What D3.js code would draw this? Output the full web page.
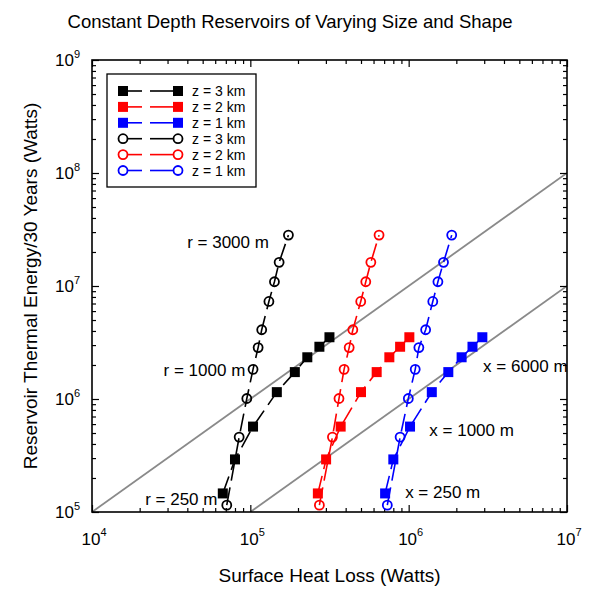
<!DOCTYPE html>
<html>
<head>
<meta charset="utf-8">
<script src="https://cdn.jsdelivr.net/npm/d3@7"></script>
<style>
  body { margin: 0; background: #fff; }
  #chart { width: 593px; height: 591px; }
  text { font-family: "Liberation Sans", Arial, sans-serif; fill: #000; }
</style>
</head>
<body>
<div id="chart"></div>
<script>
// energy stored per reservoir (y values)
const energySphere = [1.15e5, 4.6e5, 1.01e6, 1.83e6, 2.85e6, 4.1e6, 7.3e6, 1.09e7, 1.62e7, 2.82e7];
const energyBox = [1.46e5, 2.92e5, 5.7e5, 1.15e6, 1.73e6, 2.34e6, 2.9e6, 3.52e6];

// surface heat loss (x values), per depth
const lossBox3 = [6.7e4, 8.0e4, 1.04e5, 1.47e5, 1.91e5, 2.29e5, 2.73e5, 3.16e5];
const lossBox2 = [2.67e5, 3.01e5, 3.72e5, 5.0e5, 6.28e5, 7.55e5, 8.83e5, 1.01e6];
const lossBox1 = [7.1e5, 8.0e5, 1.02e6, 1.40e6, 1.78e6, 2.16e6, 2.53e6, 2.92e6];
const lossSphere3 = [7.1e4, 8.5e4, 9.5e4, 1.04e5, 1.12e5, 1.18e5, 1.31e5, 1.42e5, 1.52e5, 1.74e5];
const lossSphere2 = [2.73e5, 3.30e5, 3.63e5, 3.91e5, 4.21e5, 4.44e5, 4.98e5, 5.36e5, 5.77e5, 6.50e5];
const lossSphere1 = [7.33e5, 8.83e5, 9.95e5, 1.10e6, 1.16e6, 1.28e6, 1.42e6, 1.53e6, 1.66e6, 1.87e6];

const seriesNames = ["z = 3 km", "z = 2 km", "z = 1 km", "z = 3 km", "z = 2 km", "z = 1 km"];
const seriesColors = ["#000000", "#ff0000", "#0000ff", "#000000", "#ff0000", "#0000ff"];
const seriesShapes = ["square", "square", "square", "circle", "circle", "circle"];

// ratio energy/heat loss for the gray guide lines
const guideRatios = [10, 1];

// annotations, anchored in data space
const noteText = ["r = 3000 m", "r = 1000 m", "r = 250 m", "x = 6000 m", "x = 1000 m", "x = 250 m"];
const noteLoss = [1.31e5, 9.3e4, 6.2e4, 2.95e6, 1.35e6, 9.5e5];
const noteEnergy = [2.17e7, 1.6e6, 1.15e5, 1.73e6, 4.7e5, 1.33e5];
const noteAnchor = ["end", "end", "end", "start", "start", "start"];

const xTickExp = [4, 5, 6, 7];
const yTickExp = [5, 6, 7, 8, 9];

function render() {
  const container = d3.select("#chart");
  const width = 593, height = 591;
  const margin = { top: 60, right: 26, bottom: 79, left: 92 };
  const innerW = width - margin.left - margin.right;
  const innerH = height - margin.top - margin.bottom;

  const svg = container.append("svg").attr("width", width).attr("height", height);
  const g = svg.append("g").attr("transform", `translate(${margin.left},${margin.top})`);

  const x = d3.scaleLog().domain([1e4, 1e7]).range([0, innerW]);
  const y = d3.scaleLog().domain([1e5, 1e9]).range([innerH, 0]);

  svg.append("defs").append("clipPath").attr("id", "plotclip")
    .append("rect").attr("width", innerW).attr("height", innerH);

  // guide lines E = ratio * Q
  g.append("g").attr("clip-path", "url(#plotclip)")
    .selectAll("line").data(guideRatios).enter().append("line")
    .attr("x1", d => x(Math.max(1e4, 1e5 / d))).attr("y1", y(1e5))
    .attr("x2", x(1e7)).attr("y2", d => y(d * 1e7))
    .attr("stroke", "#8a8a8a").attr("stroke-width", 1.8);

  // ticks (inward, all four sides)
  const minor = x.ticks().filter(v => Math.abs(Math.log10(v) % 1) > 1e-6);
  const major = xTickExp.map(e => Math.pow(10, e));
  const yMinor = y.ticks().filter(v => Math.abs(Math.log10(v) % 1) > 1e-6);
  const yMajor = yTickExp.map(e => Math.pow(10, e));

  const tickSets = [
    [d3.axisBottom(x), minor, 4, `translate(0,${innerH})`],
    [d3.axisBottom(x), major, 7, `translate(0,${innerH})`],
    [d3.axisTop(x), minor, 4, null],
    [d3.axisTop(x), major, 7, null],
    [d3.axisLeft(y), yMinor, 4, null],
    [d3.axisLeft(y), yMajor, 7, null],
    [d3.axisRight(y), yMinor, 4, `translate(${innerW},0)`],
    [d3.axisRight(y), yMajor, 7, `translate(${innerW},0)`]
  ];
  tickSets.forEach(([axis, vals, len, tr]) => {
    const a = g.append("g").call(axis.tickValues(vals).tickSize(-len).tickSizeOuter(0).tickFormat(""));
    if (tr) a.attr("transform", tr);
    a.select(".domain").remove();
    a.selectAll("line").attr("stroke", "#000").attr("stroke-width", 1.2);
  });

  g.append("rect").attr("width", innerW).attr("height", innerH)
    .attr("fill", "none").attr("stroke", "#000").attr("stroke-width", 1.6);

  // tick labels with superscripts
  const xl = g.selectAll(".xlab").data(xTickExp).enter().append("text")
    .attr("class", "xlab")
    .attr("x", d => x(Math.pow(10, d)) + 2).attr("y", innerH + 33)
    .attr("text-anchor", "middle").attr("font-size", 17);
  xl.append("tspan").text("10");
  xl.append("tspan").attr("dy", -9).attr("font-size", 11).text(d => d);

  const yl = g.selectAll(".ylab").data(yTickExp).enter().append("text")
    .attr("class", "ylab")
    .attr("x", -12).attr("y", d => y(Math.pow(10, d)) + 6)
    .attr("text-anchor", "end").attr("font-size", 17);
  yl.append("tspan").text("10");
  yl.append("tspan").attr("dy", -8).attr("font-size", 11).text(d => d);

  // series
  const series = [lossBox3, lossBox2, lossBox1, lossSphere3, lossSphere2, lossSphere1].map((loss, i) => ({
    name: seriesNames[i],
    color: seriesColors[i],
    shape: seriesShapes[i],
    points: loss.map((q, j) => ({ q, e: (seriesShapes[i] === "square" ? energyBox : energySphere)[j] }))
  }));

  const line = d3.line().x(d => x(d.q)).y(d => y(d.e));
  const sq = 10, rc = 4.5;

  series.forEach(s => {
    const sg = g.append("g");
    sg.append("path").datum(s.points).attr("d", line)
      .attr("fill", "none").attr("stroke", s.color).attr("stroke-width", 1.6)
      .attr("stroke-dasharray", "18,7");
    if (s.shape === "square") {
      sg.selectAll("rect").data(s.points).enter().append("rect")
        .attr("x", d => x(d.q) - sq / 2).attr("y", d => y(d.e) - sq / 2)
        .attr("width", sq).attr("height", sq).attr("fill", s.color);
    } else {
      sg.selectAll("circle").data(s.points).enter().append("circle")
        .attr("cx", d => x(d.q)).attr("cy", d => y(d.e)).attr("r", rc)
        .attr("fill", "none").attr("stroke", s.color).attr("stroke-width", 1.8);
    }
  });

  // annotations
  g.selectAll(".note").data(noteText).enter().append("text")
    .attr("class", "note")
    .attr("x", (d, i) => x(noteLoss[i])).attr("y", (d, i) => y(noteEnergy[i]))
    .attr("text-anchor", (d, i) => noteAnchor[i])
    .attr("font-size", 17).text(d => d);

  // legend
  const lg = g.append("g").attr("transform", "translate(15,14)");
  lg.append("rect").attr("width", 149).attr("height", 113)
    .attr("fill", "#fff").attr("stroke", "#000").attr("stroke-width", 1.3);
  series.forEach((s, i) => {
    const row = lg.append("g").attr("transform", `translate(0,${17 + i * 15.9})`);
    row.append("line").attr("x1", 16).attr("x2", 35).attr("stroke", s.color).attr("stroke-width", 1.6);
    row.append("line").attr("x1", 43).attr("x2", 71).attr("stroke", s.color).attr("stroke-width", 1.6);
    [16, 71].forEach(cx => {
      if (s.shape === "square") {
        row.append("rect").attr("x", cx - sq / 2).attr("y", -sq / 2).attr("width", sq).attr("height", sq).attr("fill", s.color);
      } else {
        row.append("circle").attr("cx", cx).attr("r", rc).attr("fill", "#fff")
          .attr("stroke", s.color).attr("stroke-width", 1.8);
      }
    });
    row.append("text").attr("x", 85).attr("y", 5).attr("font-size", 14).text(s.name);
  });

  // titles
  svg.append("text").attr("x", 290).attr("y", 28).attr("text-anchor", "middle")
    .attr("font-size", 18.5).text("Constant Depth Reservoirs of Varying Size and Shape");
  svg.append("text").attr("x", margin.left + innerW / 2).attr("y", 582).attr("text-anchor", "middle")
    .attr("font-size", 19).text("Surface Heat Loss (Watts)");
  svg.append("text").attr("transform", `translate(37,${margin.top + innerH / 2}) rotate(-90)`)
    .attr("text-anchor", "middle").attr("font-size", 19)
    .text("Reservoir Thermal Energy/30 Years (Watts)");
}

render();
</script>
</body>
</html>
